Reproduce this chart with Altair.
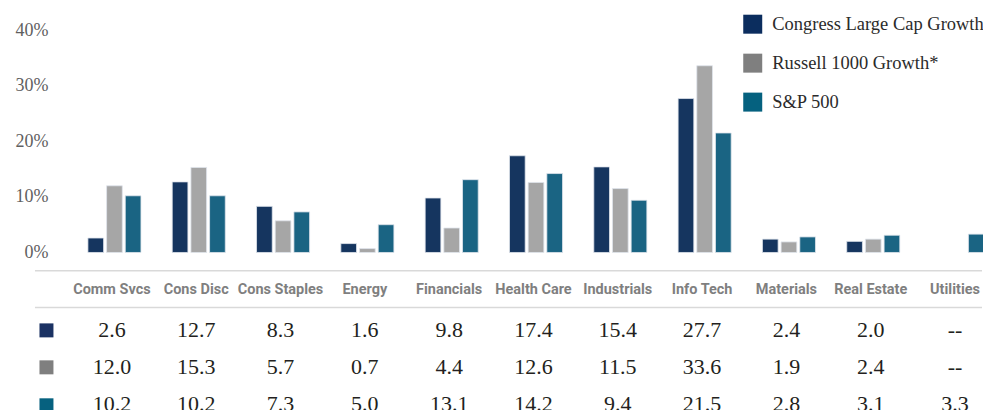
import altair as alt
import pandas as pd

categories = ["Comm Svcs", "Cons Disc", "Cons Staples", "Energy", "Financials",
              "Health Care", "Industrials", "Info Tech", "Materials", "Real Estate", "Utilities"]
series_names = ["Congress Large Cap Growth", "Russell 1000 Growth", "S&P 500"]
congress = [2.6, 12.7, 8.3, 1.6, 9.8, 17.4, 15.4, 27.7, 2.4, 2.0, None]
russell = [12.0, 15.3, 5.7, 0.7, 4.4, 12.6, 11.5, 33.6, 1.9, 2.4, None]
sp500 = [10.2, 10.2, 7.3, 5.0, 13.1, 14.2, 9.4, 21.5, 2.8, 3.1, 3.3]
y_ticks = [0, 10, 20, 30, 40]
# separator rules below the bars, expressed on the value axis (in % units)
separator_levels = [-9.92, -3.27]

bar_colors = ["#15355f", "#a6a6a6", "#1a6483"]
key_colors = ["#0b2d5e", "#7f7f7f", "#05617f"]
table_key_colors = ["#1b3263", "#7f7f7f", "#06617f"]

rows = []
for s, vals in zip(series_names, [congress, russell, sp500]):
    for c, v in zip(categories, vals):
        rows.append({"category": c, "series": s, "value": v,
                     "label": "--" if v is None else f"{v:.1f}"})
df = pd.DataFrame(rows)
sep_df = pd.DataFrame({"value": separator_levels})

SERIF = "Liberation Serif"
NARROW = "Roboto, sans-serif"
PLOT_W = 948

x_scale = alt.Scale(domain=categories, range=[34.8, 963.2], paddingInner=0, paddingOuter=0)
y_scale = alt.Scale(domain=[separator_levels[0], 40], nice=False, zero=True)

bars = alt.Chart(df).mark_bar(stroke="#dfe5ec", strokeWidth=0.8).encode(
    x=alt.X("category:N", scale=x_scale, sort=categories,
            axis=alt.Axis(orient="bottom", offset=-17.7, domain=False,
                          ticks=False, tickSize=0, labelPadding=0,
                          labelBaseline="middle", labelFont=NARROW, labelFontWeight="bold",
                          labelFontSize=14.5, labelColor="#7f7f7f", labelAngle=0, title=None,
                          labelLimit=200)),
    xOffset=alt.XOffset("series:N", sort=series_names,
                        scale=alt.Scale(domain=series_names, range=[18.2, 71.3],
                                        paddingInner=0.16, paddingOuter=0)),
    y=alt.Y("value:Q", scale=y_scale,
            axis=alt.Axis(values=y_ticks, labelExpr="datum.value + '%'", grid=False,
                          domain=False, ticks=False, tickSize=0, labelPadding=0, offset=-13,
                          labelFont=SERIF, labelFontSize=18, labelColor="#5f5f5f", title=None)),
    color=alt.Color("series:N", scale=alt.Scale(domain=series_names, range=bar_colors), legend=None),
)

separators = alt.Chart(sep_df).mark_rule(color="#d9d9d9", strokeWidth=1.5).encode(
    y=alt.Y("value:Q", scale=y_scale),
    x=alt.value(0),
    x2=alt.value("width"),
)

keys = alt.Chart(df).mark_square(opacity=0, filled=True).encode(
    color=alt.Color("series:N", scale=alt.Scale(domain=series_names, range=key_colors),
                    legend=alt.Legend(title=None, orient="none", legendX=709, legendY=-15.5,
                                      symbolType="square", symbolSize=361, symbolOpacity=1,
                                      symbolStrokeWidth=0, labelFont=SERIF, labelFontSize=18.5,
                                      labelColor="#2b2b2b", labelOffset=10, rowPadding=20,
                                      padding=0, labelLimit=400,
                                      labelExpr="datum.label == 'Russell 1000 Growth' ? 'Russell 1000 Growth*' : datum.label")),
)

top = alt.layer(separators, bars, keys).resolve_scale(color="independent").properties(
    width=PLOT_W, height=277.7)

tick_color = {
    "condition": [
        {"test": f"datum.value === '{series_names[0]}'", "value": table_key_colors[0]},
        {"test": f"datum.value === '{series_names[1]}'", "value": table_key_colors[1]},
    ],
    "value": table_key_colors[2],
}

table = alt.Chart(df).mark_text(font=SERIF, fontSize=22, color="#231f20", baseline="middle").encode(
    x=alt.X("category:N", scale=x_scale, sort=categories, axis=None),
    y=alt.Y("series:N", sort=series_names,
            scale=alt.Scale(type="point", domain=series_names, range=[22, 96.5], padding=0),
            axis=alt.Axis(labels=False, domain=False, ticks=True, tickSize=14, tickWidth=14,
                          tickColor=tick_color, offset=-18, title=None, grid=False)),
    text="label:N",
).properties(width=PLOT_W, height=90)

chart = alt.vconcat(top, table, spacing=0, bounds="flush").configure_view(
    stroke=None
).properties(padding={"left": 7, "top": 6, "right": -2, "bottom": 0})

chart.save("out.html", embed_options={"renderer": "svg", "actions": False})
